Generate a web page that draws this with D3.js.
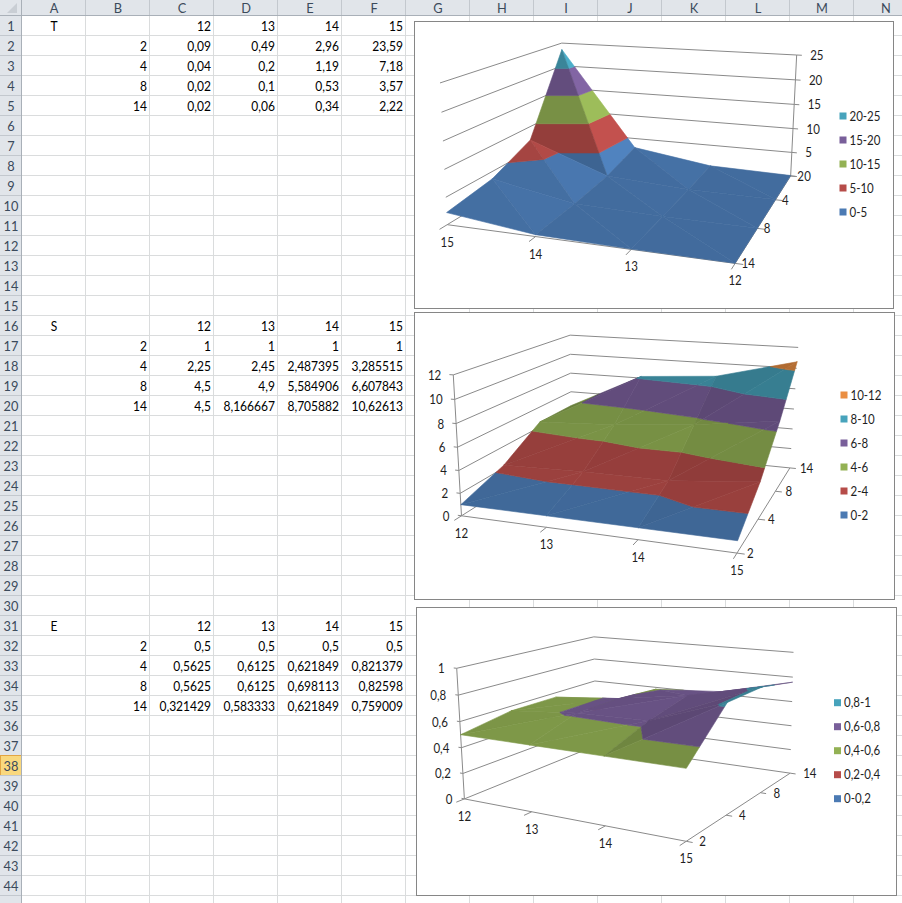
<!DOCTYPE html>
<html lang="en">
<head>
<meta charset="UTF-8">
<title>T / S / E surfaces</title>
<script src="https://cdn.jsdelivr.net/npm/d3@7/dist/d3.min.js"></script>
<style>
  body{margin:0;background:#fff}
  svg{display:block;font-family:Lato,"Liberation Sans",sans-serif}
  .cell{font-size:14px;fill:#000}
  .hdr{font-size:13.5px;fill:#3b4a5b}
  .lbl{font-size:12.5px;fill:#1e1e1e}
</style>
</head>
<body>
<svg id="sheet" width="902" height="903"></svg>
<script>
// values as they stand in the sheet
var categories = [12, 13, 14, 15];
var seriesNames = [2, 4, 8, 14];

var tValues = [
  [0.09, 0.49, 2.96, 23.59],
  [0.04, 0.2, 1.19, 7.18],
  [0.02, 0.1, 0.53, 3.57],
  [0.02, 0.06, 0.34, 2.22]
];
var sValues = [
  [1, 1, 1, 1],
  [2.25, 2.45, 2.487395, 3.285515],
  [4.5, 4.9, 5.584906, 6.607843],
  [4.5, 8.166667, 8.705882, 10.62613]
];
var eValues = [
  [0.5, 0.5, 0.5, 0.5],
  [0.5625, 0.6125, 0.621849, 0.821379],
  [0.5625, 0.6125, 0.698113, 0.82598],
  [0.321429, 0.583333, 0.621849, 0.759009]
];

var tTicks = [0, 5, 10, 15, 20, 25];
var sTicks = [0, 2, 4, 6, 8, 10, 12];
var eTicks = [0, 0.2, 0.4, 0.6, 0.8, 1];

var bandColors = ["#4F81BD", "#C0504D", "#9BBB59", "#8064A2", "#4BACC6", "#F79646"];

var colNames = "ABCDEFGHIJKLMN".split("");
var colW = 64, rowH = 20, hdrW = 22, hdrH = 16, nRows = 45;
var activeRow = 38;

var svg = d3.select("#sheet");

function comma(v) { return String(v).replace(".", ","); }

// excel "General" look in a 64px column
function formatNum(v) {
  if (Number.isInteger(v)) return String(v);
  var ip = String(Math.floor(Math.abs(v))).length;
  return comma(+v.toFixed(Math.max(0, 7 - ip)));
}

// calibri is narrower than anything installed, so squeeze the text a bit
function label(sel, cls, x, y, anchor, txt, sx) {
  return sel.append("text").attr("class", cls)
    .attr("transform", "translate(" + x + "," + y + ") scale(" + sx + ",1)")
    .attr("text-anchor", anchor).text(txt);
}

// ---------- sheet ----------
var sheet = svg.append("g");
sheet.append("rect").attr("width", 902).attr("height", 903).attr("fill", "#fff");

d3.range(1, colNames.length + 1).forEach(function (k) {
  sheet.append("line")
    .attr("x1", hdrW + k * colW - 0.5).attr("x2", hdrW + k * colW - 0.5)
    .attr("y1", hdrH).attr("y2", 903).attr("stroke", "#dadcdd");
});
d3.range(1, nRows + 1).forEach(function (r) {
  sheet.append("line")
    .attr("x1", hdrW).attr("x2", 902)
    .attr("y1", hdrH + r * rowH - 0.5).attr("y2", hdrH + r * rowH - 0.5)
    .attr("stroke", "#dadcdd");
});

// headers
sheet.append("rect").attr("x", 0).attr("y", 0).attr("width", 902).attr("height", hdrH).attr("fill", "#e1e5ea");
sheet.append("rect").attr("x", 0).attr("y", 0).attr("width", hdrW).attr("height", 903).attr("fill", "#e1e5ea");
sheet.append("path").attr("d", "M17,3L17,13L7,13Z").attr("fill", "#c9ced4");

colNames.forEach(function (c, k) {
  var x = hdrW + k * colW;
  sheet.append("line").attr("x1", x + colW - 0.5).attr("x2", x + colW - 0.5)
    .attr("y1", 0).attr("y2", hdrH).attr("stroke", "#c3c8ce");
  label(sheet, "hdr", x + colW / 2, hdrH / 2 + 5, "middle", c, 0.95);
});
d3.range(1, nRows + 1).forEach(function (r) {
  var y = hdrH + (r - 1) * rowH;
  if (r === activeRow) {
    sheet.append("rect").attr("x", 0.5).attr("y", y - 0.5).attr("width", hdrW - 1).attr("height", rowH)
      .attr("fill", "#f9d87e").attr("stroke", "#e2a544");
  }
  sheet.append("line").attr("x1", 0).attr("x2", hdrW)
    .attr("y1", y + rowH - 0.5).attr("y2", y + rowH - 0.5).attr("stroke", "#c3c8ce");
  if (r < nRows) label(sheet, "hdr", hdrW / 2, y + rowH / 2 + 5, "middle", r, 0.95);
});
sheet.append("line").attr("x1", hdrW - 0.5).attr("x2", hdrW - 0.5).attr("y1", 0).attr("y2", 903).attr("stroke", "#a9b0b8");
sheet.append("line").attr("x1", 0).attr("x2", 902).attr("y1", hdrH - 0.5).attr("y2", hdrH - 0.5).attr("stroke", "#a9b0b8");

// cells
var tables = [
  {label: "T", row: 1, values: tValues},
  {label: "S", row: 16, values: sValues},
  {label: "E", row: 31, values: eValues}
];
var cells = [];
tables.forEach(function (t) {
  cells.push({col: 0, row: t.row, text: t.label, anchor: "middle"});
  categories.forEach(function (c, i) { cells.push({col: 2 + i, row: t.row, text: String(c), anchor: "end"}); });
  seriesNames.forEach(function (s, j) {
    cells.push({col: 1, row: t.row + 1 + j, text: String(s), anchor: "end"});
    t.values[j].forEach(function (val, i) {
      cells.push({col: 2 + i, row: t.row + 1 + j, text: formatNum(val), anchor: "end"});
    });
  });
});
cells.forEach(function (d) {
  var x = hdrW + d.col * colW + (d.anchor === "middle" ? colW / 2 : colW - 3);
  var y = hdrH + (d.row - 1) * rowH + rowH / 2 + 5;
  label(sheet, "cell", x, y, d.anchor, d.text, 0.86);
});

// ---------- 3d helpers ----------
// fit a perspective camera (3x4, last entry 1) to frame corners by least squares
function camera(pts) {
  var rows = [], rhs = [];
  pts.forEach(function (p) {
    var X = p[0], Y = p[1], Z = p[2], x = p[3], y = p[4];
    rows.push([X, Y, Z, 1, 0, 0, 0, 0, -x * X, -x * Y, -x * Z]); rhs.push(x);
    rows.push([0, 0, 0, 0, X, Y, Z, 1, -y * X, -y * Y, -y * Z]); rhs.push(y);
  });
  var n = 11, A = [], b = [];
  for (var i = 0; i < n; i++) {
    A[i] = [];
    for (var j = 0; j < n; j++) A[i][j] = d3.sum(rows, function (r) { return r[i] * r[j]; });
    b[i] = d3.sum(rows, function (r, k) { return r[i] * rhs[k]; });
  }
  for (var c = 0; c < n; c++) {
    var piv = c;
    for (var r = c + 1; r < n; r++) if (Math.abs(A[r][c]) > Math.abs(A[piv][c])) piv = r;
    var tmp = A[c]; A[c] = A[piv]; A[piv] = tmp;
    var tb = b[c]; b[c] = b[piv]; b[piv] = tb;
    for (var r2 = c + 1; r2 < n; r2++) {
      var f = A[r2][c] / A[c][c];
      for (var k = c; k < n; k++) A[r2][k] -= f * A[c][k];
      b[r2] -= f * b[c];
    }
  }
  var p = new Array(n);
  for (var i2 = n - 1; i2 >= 0; i2--) {
    var s = b[i2];
    for (var k2 = i2 + 1; k2 < n; k2++) s -= A[i2][k2] * p[k2];
    p[i2] = s / A[i2][i2];
  }
  return function (X, Y, Z) {
    var w = p[8] * X + p[9] * Y + p[10] * Z + 1;
    return [(p[0] * X + p[1] * Y + p[2] * Z + p[3]) / w, (p[4] * X + p[5] * Y + p[6] * Z + p[7]) / w, w];
  };
}

function clip(poly, f) {
  var out = [];
  for (var i = 0; i < poly.length; i++) {
    var cur = poly[i], prev = poly[(i + poly.length - 1) % poly.length];
    var fc = f(cur), fp = f(prev);
    if (fc >= 0) {
      if (fp < 0) out.push(lerp(prev, cur, fp / (fp - fc)));
      out.push(cur);
    } else if (fp >= 0) {
      out.push(lerp(prev, cur, fp / (fp - fc)));
    }
  }
  return out;
}
function lerp(a, b, t) {
  return {u: a.u + (b.u - a.u) * t, v: a.v + (b.v - a.v) * t, val: a.val + (b.val - a.val) * t};
}

var light = (function () { var l = [0.9, 0.1, 0.45], m = Math.hypot(l[0], l[1], l[2]); return l.map(function (x) { return x / m; }); })();
var boxDepth = 0.55, boxHeight = 0.5;

// ---------- charts ----------
var charts = [
  {values: tValues, ticks: tTicks, catRev: true, serRev: true, zSide: "backRight", serDx: 6.5, zDx: 13.5,
   box: [414, 21, 479, 287], legend: [839.5, 116],
   frame: [[0, 0, 0, 447.3, 225], [1, 0, 0, 735, 263.3], [1, 1, 0, 790.7, 176], [0, 1, 0, 563.5, 153.5],
           [0, 0, 1, 440, 82.7], [1, 1, 1, 796.7, 55], [0, 1, 1, 561.7, 43.3]]},
  {values: sValues, ticks: sTicks, catRev: false, serRev: false, zSide: "frontLeft", serDx: 10, zDx: -12,
   box: [414, 312, 480, 287], legend: [840.5, 395],
   frame: [[0, 0, 0, 461.7, 516.7], [1, 0, 0, 736.7, 552.7], [1, 1, 0, 790, 468.3], [0, 1, 0, 571.7, 445.3],
           [0, 0, 1, 453.3, 374.3], [1, 1, 1, 798.3, 347.3], [0, 1, 1, 570, 335.7]]},
  {values: eValues, ticks: eTicks, catRev: false, serRev: false, zSide: "frontLeft", serDx: 13, zDx: -12,
   box: [416, 607, 480, 288], legend: [834, 702.7],
   frame: [[0, 0, 0, 464, 796.7], [1, 0, 0, 686.7, 842.7], [1, 1, 0, 790, 771.7], [0, 1, 0, 596.5, 747.5],
           [0, 0, 1, 456.7, 669.3], [1, 1, 1, 793.3, 652.7], [0, 1, 1, 594, 635.7]]}
];

charts.forEach(drawChart);

function drawChart(cfg) {
  var g = svg.append("g");
  var bx = cfg.box;
  g.append("rect").attr("x", bx[0] + 0.5).attr("y", bx[1] + 0.5).attr("width", bx[2]).attr("height", bx[3])
    .attr("fill", "#fff").attr("stroke", "#868686");

  var cam = camera(cfg.frame);
  var uS = d3.scalePoint().domain(categories).range(cfg.catRev ? [1, 0] : [0, 1]);
  var vS = d3.scalePoint().domain(seriesNames).range(cfg.serRev ? [1, 0] : [0, 1]);
  var zS = d3.scaleLinear().domain(d3.extent(cfg.ticks)).range([0, 1]);
  var seg = function (a, b) {
    return g.append("line").attr("x1", a[0]).attr("y1", a[1]).attr("x2", b[0]).attr("y2", b[1])
      .attr("stroke", "#8a8a8a").attr("stroke-width", 1);
  };

  // walls: gridlines only
  cfg.ticks.forEach(function (t) {
    var w = zS(t);
    seg(cam(0, 0, w), cam(0, 1, w));
    seg(cam(0, 1, w), cam(1, 1, w));
  });

  // floor edges = category and series axes
  seg(cam(0, 0, 0), cam(1, 0, 0));
  seg(cam(1, 0, 0), cam(1, 1, 0));
  categories.forEach(function (c) { seg(cam(uS(c), 0, 0), cam(uS(c), -0.05, 0)); });
  seriesNames.forEach(function (s) { seg(cam(1, vS(s), 0), cam(1.025, vS(s), 0)); });

  // value axis
  var zu = cfg.zSide === "backRight" ? 1 : 0, zv = zu;
  var tickOut = cfg.zSide === "backRight" ? 1.02 : -0.015;
  seg(cam(zu, zv, 0), cam(zu, zv, 1));
  cfg.ticks.forEach(function (t) { seg(cam(zu, zv, zS(t)), cam(tickOut, zv, zS(t))); });

  // surface: each grid cell split in two along the diagonal with the larger rise, cut into value bands
  var vert = function (ci, si) {
    return {u: uS(categories[ci]), v: vS(seriesNames[si]), val: cfg.values[si][ci]};
  };
  var tris = [];
  for (var si = 0; si < seriesNames.length - 1; si++) {
    for (var ci = 0; ci < categories.length - 1; ci++) {
      var A = vert(ci, si), B = vert(ci + 1, si), C = vert(ci + 1, si + 1), D = vert(ci, si + 1);
      if (Math.abs(A.val - C.val) >= Math.abs(B.val - D.val)) tris.push([A, B, C], [A, C, D]);
      else tris.push([A, B, D], [B, C, D]);
    }
  }
  var backFar = cam(0.5, 1, 0)[2] > cam(0.5, 0, 0)[2];
  tris.forEach(function (t) {
    var cu = d3.mean(t, function (p) { return p.u; }), cv = d3.mean(t, function (p) { return p.v; });
    var cw = zS(d3.mean(t, function (p) { return p.val; }));
    t.depth = cam(cu, cv, cw)[2];
    var P = t.map(function (p) { return [p.u, p.v * boxDepth, zS(p.val) * boxHeight]; });
    var a = [P[1][0] - P[0][0], P[1][1] - P[0][1], P[1][2] - P[0][2]];
    var b = [P[2][0] - P[0][0], P[2][1] - P[0][1], P[2][2] - P[0][2]];
    var n = [a[1] * b[2] - a[2] * b[1], a[2] * b[0] - a[0] * b[2], a[0] * b[1] - a[1] * b[0]];
    var m = Math.hypot(n[0], n[1], n[2]) * (n[2] < 0 ? -1 : 1);
    var dot = (n[0] * light[0] + n[1] * light[1] + n[2] * light[2]) / m;
    t.shade = Math.min(1.02, 0.67 + 0.36 * Math.max(0, dot));
  });
  tris.sort(function (a, b) { return backFar ? b.depth - a.depth : a.depth - b.depth; });

  var surf = g.append("g");
  tris.forEach(function (t) {
    for (var k = 0; k < cfg.ticks.length - 1; k++) {
      var lo = cfg.ticks[k], hi = cfg.ticks[k + 1];
      var poly = clip(t, function (p) { return p.val - lo; });
      poly = clip(poly, function (p) { return hi - p.val; });
      if (poly.length < 3) continue;
      var base = d3.rgb(bandColors[k]);
      var col = d3.rgb(base.r * t.shade, base.g * t.shade, base.b * t.shade).formatHex();
      var pts = poly.map(function (p) { var q = cam(p.u, p.v, zS(p.val)); return q[0].toFixed(2) + "," + q[1].toFixed(2); });
      surf.append("polygon").attr("points", pts.join(" "))
        .attr("fill", col).attr("stroke", col).attr("stroke-width", 0.6).attr("stroke-linejoin", "round");
    }
  });

  // labels
  categories.forEach(function (c) {
    var q = cam(uS(c), 0, 0);
    label(g, "lbl", q[0], q[1] + 22, "middle", c, 0.92);
  });
  seriesNames.forEach(function (s) {
    var q = cam(1, vS(s), 0);
    label(g, "lbl", q[0] + cfg.serDx, q[1] + 5, "start", s, 0.92);
  });
  cfg.ticks.forEach(function (t) {
    var q = cam(zu, zv, zS(t));
    label(g, "lbl", q[0] + cfg.zDx, q[1] + 5, cfg.zDx > 0 ? "start" : "end", comma(t), 0.92);
  });

  // legend, highest band on top
  var bands = d3.range(cfg.ticks.length - 1).reverse();
  bands.forEach(function (k, i) {
    var y = cfg.legend[1] + i * 24;
    var c = d3.rgb(bandColors[k]).darker(0.15);
    g.append("rect").attr("x", cfg.legend[0]).attr("y", y - 3.5).attr("width", 7).attr("height", 7).attr("fill", c);
    label(g, "lbl", cfg.legend[0] + 10, y + 4.5, "start", comma(cfg.ticks[k]) + "-" + comma(cfg.ticks[k + 1]), 0.92);
  });
}
</script>
</body>
</html>
